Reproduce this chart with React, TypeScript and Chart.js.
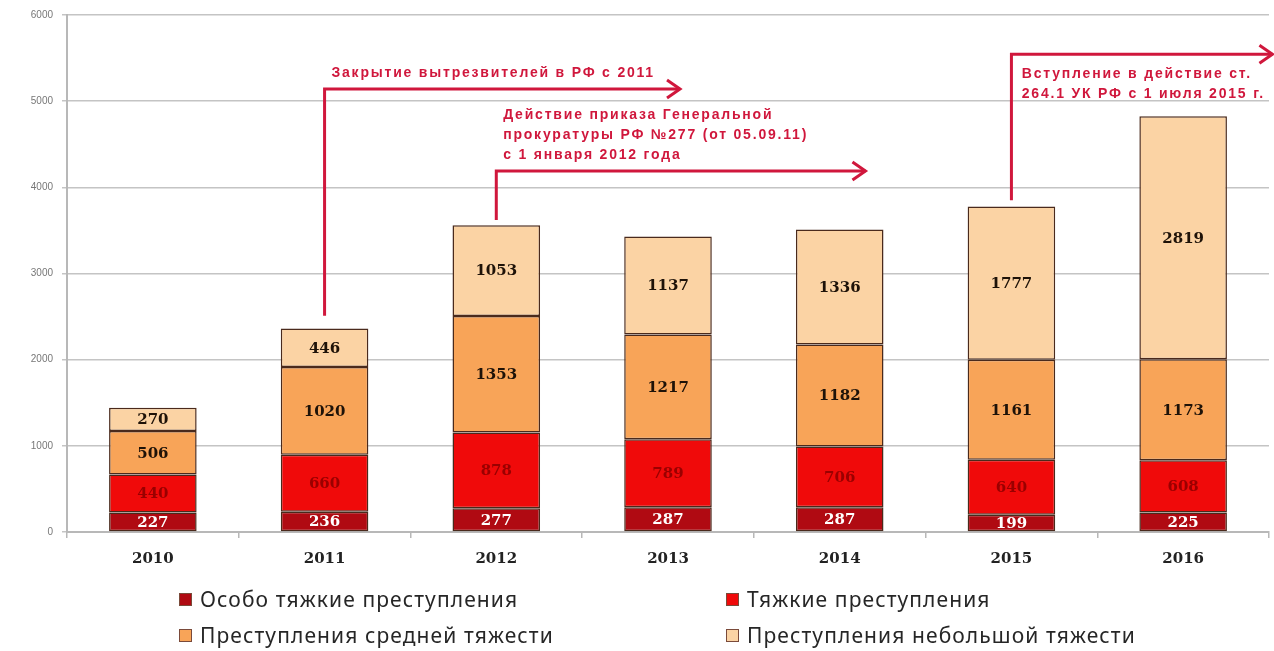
import { useEffect, useRef } from 'react';
import { Chart, registerables } from 'chart.js';

Chart.register(...registerables);

const categories = ['2010', '2011', '2012', '2013', '2014', '2015', '2016'];
const especiallyGrave = [227, 236, 277, 287, 287, 199, 225];
const grave = [440, 660, 878, 789, 706, 640, 608];
const medium = [506, 1020, 1353, 1217, 1182, 1161, 1173];
const minor = [270, 446, 1053, 1137, 1336, 1777, 2819];
const seriesNames = [
  'Особо тяжкие преступления',
  'Тяжкие преступления',
  'Преступления средней тяжести',
  'Преступления небольшой тяжести',
];
const yTicks = [0, 1000, 2000, 3000, 4000, 5000, 6000];

const seriesColors = ['#b00a12', '#f00a0a', '#f8a458', '#fbd3a4'];
const labelColors = ['#ffffff', '#9a0000', '#1e1208', '#1e1208'];

// annotation anchors in data coordinates (category index, value)
const annotations = [
  { at: 1, from: 2510, to: 5140, end: 3.07, textAt: 1.04, textValue: 5324, lines: ['Закрытие вытрезвителей в РФ с 2011'] },
  {
    at: 2, from: 3620, to: 4190, end: 4.15, textAt: 2.04, textValue: 4838,
    lines: ['Действие приказа Генеральной', 'прокуратуры РФ №277 (от 05.09.11)', 'с 1 января 2012 года'],
  },
  { at: 5, from: 3850, to: 5544, end: 6.52, textAt: 5.06, textValue: 5312, lines: ['Вступление в действие ст.', '264.1 УК РФ с 1 июля 2015 г.'] },
];

const ANN_COLOR = '#d0173c';

const labelPlugin = {
  id: 'segLabels',
  afterDatasetsDraw(chart: any) {
    const ctx = chart.ctx;
    ctx.save();
    ctx.font = 'bold 15px "DejaVu Serif"';
    ctx.textAlign = 'center';
    ctx.textBaseline = 'middle';
    chart.data.datasets.forEach((ds: any, di: number) => {
      const meta = chart.getDatasetMeta(di);
      meta.data.forEach((el: any, i: number) => {
        const y = (el.y + el.base) / 2;
        ctx.fillStyle = labelColors[di];
        ctx.fillText(String(ds.data[i]), el.x, y + 1);
      });
    });
    ctx.restore();
  },
};

const annotationPlugin = {
  id: 'arrows',
  afterDraw(chart: any) {
    const ctx = chart.ctx;
    const xs = chart.scales.x;
    const ys = chart.scales.y;
    ctx.save();
    annotations.forEach((a) => {
      const x0 = xs.getPixelForValue(a.at);
      const y0 = ys.getPixelForValue(a.from);
      const y1 = ys.getPixelForValue(a.to);
      const x1 = xs.getPixelForValue(a.end);
      ctx.strokeStyle = ANN_COLOR;
      ctx.lineWidth = 3;
      ctx.lineJoin = 'miter';
      ctx.beginPath();
      ctx.moveTo(x0, y0);
      ctx.lineTo(x0, y1);
      ctx.lineTo(x1, y1);
      ctx.stroke();
      ctx.beginPath();
      ctx.moveTo(x1 - 13, y1 - 9);
      ctx.lineTo(x1, y1);
      ctx.lineTo(x1 - 13, y1 + 9);
      ctx.stroke();
      ctx.fillStyle = ANN_COLOR;
      ctx.font = 'bold 14px "Liberation Sans"';
      (ctx as any).letterSpacing = '1.8px';
      ctx.textAlign = 'left';
      ctx.textBaseline = 'middle';
      const tx = xs.getPixelForValue(a.textAt);
      const ty = ys.getPixelForValue(a.textValue);
      a.lines.forEach((line, li) => {
        ctx.fillText(line, tx, ty + li * 20);
      });
      (ctx as any).letterSpacing = '0px';
    });
    ctx.restore();
  },
};

export default function App() {
  const ref = useRef<HTMLCanvasElement>(null);
  useEffect(() => {
    document.body.style.margin = '0';
    const data = [especiallyGrave, grave, medium, minor];
    const chart = new Chart(ref.current as HTMLCanvasElement, {
      type: 'bar',
      data: {
        labels: categories,
        datasets: data.map((d, i) => ({
          label: seriesNames[i],
          data: d,
          backgroundColor: seriesColors[i],
          borderColor: '#4a2a1c',
          borderWidth: 1.5,
          borderSkipped: false,
          categoryPercentage: 1,
          barPercentage: 0.51,
        })),
      },
      options: {
        responsive: false,
        animation: false,
        layout: { padding: { top: 14, right: 5, bottom: 79, left: 0 } },
        plugins: { legend: { display: false }, tooltip: { enabled: false } },
        scales: {
          x: {
            stacked: true,
            grid: { drawOnChartArea: false, offset: true, tickLength: 6, color: '#b8b8b8', lineWidth: 1.5 },
            border: { color: '#b8b8b8', width: 2 },
            ticks: { color: '#222', font: { family: 'DejaVu Serif', weight: 'bold', size: 15 }, padding: 12 },
            afterFit: (s: any) => { s.height = 40; },
          },
          y: {
            stacked: true,
            min: 0,
            max: 6000,
            afterBuildTicks: (s: any) => { s.ticks = yTicks.map((v) => ({ value: v })); },
            grid: { color: '#c4c4c4', lineWidth: 1.5, tickLength: 5 },
            border: { color: '#b8b8b8', width: 2 },
            ticks: {
              color: '#777',
              font: { family: 'Liberation Sans', size: 10 },
              padding: 9,
              callback: (v: any) => String(v),
            },
            afterFit: (s: any) => { s.width = 67; },
          },
        },
      },
      plugins: [labelPlugin, annotationPlugin],
    } as any);
    return () => chart.destroy();
  }, []);

  const legendItem = (i: number, left: number, top: number) => (
    <div
      key={i}
      style={{
        position: 'absolute', left, top, display: 'flex', alignItems: 'center',
        fontFamily: '"Noto Sans", sans-serif', fontSize: 21, letterSpacing: '1.1px', color: '#262626', whiteSpace: 'nowrap',
      }}
    >
      <span style={{ width: 11, height: 11, background: seriesColors[i], border: '1px solid #7a4a3a', marginRight: 8, display: 'inline-block' }} />
      {seriesNames[i]}
    </div>
  );

  return (
    <div style={{ position: 'relative', width: 1274, height: 651, background: '#fff', overflow: 'hidden' }}>
      <canvas ref={ref} width={1274} height={651} style={{ display: 'block' }} />
      {legendItem(0, 179, 585)}
      {legendItem(1, 726, 585)}
      {legendItem(2, 179, 621)}
      {legendItem(3, 726, 621)}
    </div>
  );
}
